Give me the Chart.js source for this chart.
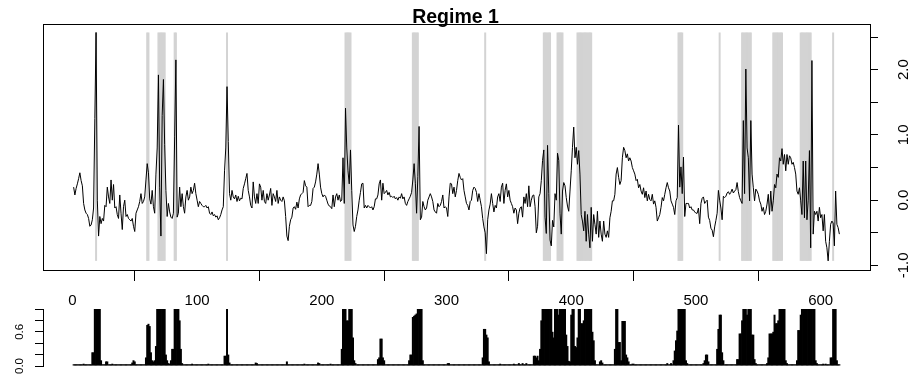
<!DOCTYPE html>
<html>
<head>
<meta charset="utf-8">
<script src="https://cdn.jsdelivr.net/npm/chart.js@4.4.0/dist/chart.umd.min.js"></script>
<style>
  body { margin: 0; background: #fff; }
  #wrap { position: relative; width: 911px; height: 385px; }
  #topChart { position: absolute; left: 0; top: 0; }
  #bottomChart { position: absolute; left: 0; top: 300px; }
</style>
</head>
<body>
<div id="wrap">
  <canvas id="topChart" width="911" height="310"></canvas>
  <canvas id="bottomChart" width="911" height="85"></canvas>
</div>
<script>
// series, one value per time step (1..615)
const series = [
  0.20, 0.08, 0.18, 0.25, 0.33, 0.42, 0.30, 0.22, -0.05, -0.15,
  -0.20, -0.22, -0.28, -0.40, -0.38, -0.30, -0.12, 1.25, 2.57, 0.00,
  -0.55, -0.25, -0.36, -0.28, -0.32, -0.08, -0.10, 0.20, 0.05, -0.05,
  0.31, 0.00, 0.24, -0.12, -0.10, -0.22, -0.28, 0.08, -0.20, -0.45,
  -0.10, 0.00, -0.25, -0.22, -0.28, -0.30, -0.32, -0.28, -0.40, -0.48,
  -0.20, -0.15, -0.10, -0.02, 0.10, -0.05, -0.02, 0.05, 0.31, 0.56,
  0.42, 0.02, -0.06, 0.15, -0.10, -0.20, 0.40, 0.80, 1.92, 0.20,
  -0.55, 1.30, 1.85, 0.85, 0.15, -0.25, -0.05, -0.18, -0.26, -0.28,
  -0.20, 0.97, 2.15, -0.26, -0.20, 0.20, -0.10, 0.10, -0.10, -0.20,
  0.05, 0.15, 0.00, 0.05, 0.20, 0.10, 0.15, 0.26, 0.10, 0.00,
  -0.10, -0.02, -0.05, -0.08, -0.10, -0.10, -0.08, -0.12, -0.10, -0.20,
  -0.22, -0.18, -0.24, -0.22, -0.26, -0.24, -0.30, -0.27, -0.22, -0.15,
  -0.10, 0.45, 0.80, 1.74, 0.90, 0.10, 0.00, 0.15, 0.05, 0.02,
  0.08, -0.02, 0.06, -0.01, 0.03, 0.02, 0.18, 0.25, 0.33, 0.41,
  0.15, 0.05, -0.08, -0.12, 0.28, 0.05, -0.05, 0.10, -0.05, 0.25,
  0.20, 0.00, 0.15, -0.02, -0.05, 0.10, 0.00, 0.08, 0.18, -0.08,
  0.10, 0.05, -0.02, 0.15, -0.05, 0.05, 0.00, -0.02, 0.05, -0.01,
  -0.25, -0.55, -0.62, -0.40, -0.30, -0.26, -0.12, -0.10, -0.14, -0.03,
  -0.12, 0.02, 0.08, 0.10, 0.12, 0.30, 0.22, 0.20, -0.10, -0.08,
  -0.08, -0.02, 0.18, 0.20, 0.28, 0.40, 0.56, 0.40, 0.20, 0.10,
  0.05, 0.08, 0.06, 0.00, -0.06, -0.09, -0.10, -0.13, 0.08, -0.10,
  0.05, 0.10, 0.00, 0.08, -0.02, 0.00, 0.65, -0.05, 1.41, 0.80,
  0.45, 0.25, 0.77, 0.15, -0.38, -0.48, -0.40, -0.25, -0.15, 0.00,
  0.12, 0.25, 0.26, -0.12, -0.08, -0.12, -0.08, -0.10, -0.12, -0.10,
  -0.15, -0.10, 0.02, 0.02, 0.08, 0.25, 0.31, 0.00, 0.26, 0.10,
  0.12, 0.15, 0.08, 0.12, 0.05, 0.06, 0.04, 0.06, 0.02, 0.04,
  0.00, 0.05, 0.03, 0.10, 0.02, 0.05, -0.05, -0.08, -0.02, 0.02,
  0.06, 0.12, 0.31, 0.56, 0.26, -0.20, 0.36, 1.13, -0.30, -0.26,
  -0.02, -0.10, -0.15, -0.12, 0.00, 0.05, 0.10, 0.05, -0.02, -0.15,
  -0.18, -0.20, -0.05, -0.10, -0.08, -0.02, 0.08, -0.12, -0.10, -0.12,
  -0.25, 0.05, 0.26, 0.25, 0.10, 0.20, 0.05, 0.15, 0.30, 0.41,
  0.35, 0.31, 0.33, 0.15, 0.05, -0.05, -0.08, -0.15, -0.02, 0.00,
  0.15, 0.20, 0.18, 0.12, -0.02, 0.10, 0.00, -0.10, -0.28, -0.41,
  -0.50, -0.82, -0.30, -0.15, -0.06, 0.10, -0.05, -0.18, -0.08, -0.12,
  0.05, 0.10, -0.02, 0.20, 0.26, -0.05, 0.15, 0.25, 0.05, 0.15,
  0.00, -0.05, -0.10, -0.20, -0.12, -0.15, -0.36, -0.20, -0.12, -0.10,
  -0.26, 0.05, -0.05, 0.10, -0.10, 0.22, -0.10, 0.00, 0.07, 0.08,
  -0.10, -0.50, -0.40, 0.05, 0.10, 0.30, 0.61, 0.77, -0.26, -0.51,
  0.84, 0.10, -0.61, -0.70, -0.31, -0.41, 0.10, 0.00, 0.72, 0.61,
  -0.20, -0.52, 0.14, 0.27, 0.22, 0.04, -0.09, -0.17, 0.14, 0.45,
  0.81, 1.12, 0.65, 0.81, 0.55, 0.76, 0.40, -0.22, -0.32, -0.47,
  -0.17, -0.63, -0.22, -0.52, -0.73, -0.11, -0.63, -0.22, -0.37, -0.52,
  -0.17, -0.57, -0.32, -0.52, -0.63, -0.32, -0.52, -0.57, -0.47, -0.57,
  -0.27, -0.17, -0.01, -0.01, 0.09, 0.40, 0.50, 0.35, 0.24, 0.30,
  0.65, 0.81, 0.76, 0.65, 0.71, 0.60, 0.65, 0.60, 0.50, 0.45,
  0.40, 0.30, 0.32, 0.19, 0.24, 0.14, 0.09, 0.19, 0.04, 0.14,
  -0.01, 0.09, 0.01, -0.01, 0.09, -0.06, -0.01, -0.11, -0.32, -0.27,
  -0.22, -0.11, 0.04, -0.01, 0.09, 0.19, 0.27, 0.19, 0.14, -0.01,
  -0.06, -0.11, -0.22, -0.01, 0.04, 1.15, 0.20, 0.51, 0.10, 0.66,
  -0.25, -0.05, -0.05, -0.05, -0.12, -0.10, -0.15, -0.15, -0.18, -0.20,
  -0.20, -0.12, -0.36, -0.05, 0.03, 0.05, -0.05, -0.02, 0.00, -0.26,
  -0.31, -0.43, -0.46, -0.56, -0.41, -0.31, -0.20, 0.15, 0.00, -0.12,
  -0.30, 0.06, 0.04, 0.06, 0.11, 0.13, 0.09, 0.12, 0.17, 0.11,
  0.14, 0.16, 0.27, 0.13, 0.04, -0.01, -0.05, 1.22, 0.10, 2.01,
  0.80, 0.65, -0.01, 1.22, 0.40, 0.19, -0.01, 0.17, 0.14, 0.09,
  -0.01, -0.06, -0.17, -0.11, -0.22, -0.17, -0.06, 0.09, -0.22, 0.14,
  -0.17, -0.01, 0.24, 0.19, 0.40, 0.35, 0.65, 0.60, 0.79, 0.55,
  0.70, 0.45, 0.70, 0.55, 0.68, 0.65, 0.55, 0.58, 0.50, 0.40,
  0.14, 0.09, 0.19, -0.01, -0.22, 0.60, -0.27, 0.60, -0.30, 0.00,
  0.76, -0.73, 2.14, -0.52, -0.17, -0.22, -0.17, -0.32, -0.11, -0.27,
  -0.22, -0.47, -0.22, -0.63, -0.73, -0.93, -0.63, -0.37, -0.32, -0.35,
  -0.70, 0.14, -0.37, -0.42, -0.52
];

// shaded regime periods (first and last time step of each)
const bandStart = [19, 60, 69, 82, 124, 219, 273, 331, 378, 389, 405, 486, 519, 537, 562, 584, 610];
const bandEnd   = [19, 61, 74, 83, 124, 223, 277, 331, 383, 393, 416, 489, 519, 544, 569, 592, 610];

// regime probability, bottom panel: [time step, probability]; other steps sit at the baseline
const probBaseline = 0.03;
const probPeaks = [
  [9,0.04],[16,0.24],[17,0.24],[18,1],[19,1],[20,1],[21,1],[22,1],[23,0.1],
  [27,0.08],[28,0.08],[32,0.04],[48,0.06],[49,0.1],[50,0.08],
  [59,0.15],[60,0.72],[61,0.74],[62,0.7],[63,0.24],[64,0.1],[65,0.08],[66,0.1],[67,0.35],
  [68,1],[69,1],[70,1],[71,1],[72,1],[73,1],[74,1],[75,0.2],[76,0.1],[77,0.05],[78,0.04],[79,0.1],
  [80,0.3],[81,0.3],[82,1],[83,1],[84,1],[85,1],[86,0.8],[87,0.3],[88,0.05],
  [96,0.04],[109,0.04],[122,0.18],[123,0.18],[124,1],[125,0.2],[126,0.06],
  [147,0.06],[148,0.05],[172,0.08],[186,0.04],[197,0.06],[198,0.05],[207,0.04],
  [216,0.3],[217,1],[218,1],[219,1],[220,0.8],[221,0.8],[222,1],[223,1],[224,1],[225,0.5],[226,0.1],[227,0.05],
  [245,0.12],[246,0.15],[247,0.48],[248,0.48],[249,0.15],[250,0.1],
  [270,0.1],[271,0.2],[272,0.2],[273,0.86],[274,0.88],[275,0.9],[276,0.92],[277,1],[278,1],[279,1],[280,1],[281,0.1],
  [301,0.05],[302,0.05],
  [329,0.15],[330,0.65],[331,0.65],[332,0.55],[333,0.5],[334,0.08],
  [343,0.04],[354,0.04],[358,0.05],[361,0.05],[364,0.05],
  [370,0.18],[371,0.18],[372,0.15],[373,0.18],[374,0.1],[375,0.3],[376,0.8],
  [377,1],[378,1],[379,1],[380,1],[381,1],[382,1],[383,1],[384,1],[385,0.6],[386,0.5],
  [387,1],[388,1],[389,1],[390,0.9],[391,1],[392,1],[393,1],[394,1],[395,1],[396,0.55],[397,0.35],[398,0.09],[399,0.08],
  [400,0.9],[401,1],[402,1],[403,0.35],[404,0.33],[405,0.5],[406,1],[407,1],[408,0.75],[409,0.75],[410,0.8],
  [411,1],[412,1],[413,1],[414,1],[415,1],[416,1],[417,0.6],[418,0.45],[419,0.1],
  [423,0.08],[424,0.1],[425,0.06],
  [435,0.3],[436,1],[437,1],[438,0.42],[439,0.42],[440,0.1],
  [441,0.79],[442,0.79],[443,0.79],[444,0.2],[445,0.15],[446,0.08],[449,0.04],[450,0.04],
  [477,0.05],[480,0.05],
  [482,0.1],[483,0.27],[484,0.45],[485,0.62],[486,1],[487,1],[488,1],[489,1],[490,1],[491,1],[492,0.1],[493,0.05],
  [506,0.05],[507,0.1],[508,0.2],[509,0.2],[510,0.08],
  [517,0.3],[518,0.65],[519,0.9],[520,0.9],[521,0.24],[522,0.1],
  [533,0.12],[534,0.12],[535,0.57],[536,0.57],[537,0.8],[538,1],[539,1],[540,1],[541,0.9],[542,1],[543,1],[544,1],
  [545,0.55],[546,0.55],[547,0.12],[548,0.05],
  [557,0.05],[558,0.15],[559,0.57],[560,0.57],[561,0.57],[562,0.6],[563,0.9],[564,0.75],[565,0.75],[566,0.8],
  [567,1],[568,1],[569,1],[570,1],[571,1],[572,0.1],[573,0.05],
  [581,0.1],[582,0.63],[583,0.63],[584,0.9],[585,1],[586,1],[587,1],[588,1],[589,1],[590,1],[591,1],[592,1],
  [593,1],[594,1],[595,1],[596,0.1],[597,0.05],
  [602,0.04],[604,0.04],[608,0.15],[609,0.15],[610,1],[611,1],[612,1],[613,0.1]
];

const xTicks = [0, 100, 200, 300, 400, 500, 600];
const yTicks = [-1, -0.5, 0, 0.5, 1, 1.5, 2, 2.5];
const yLabelled = [-1, 0, 1, 2];
const probTicks = [0, 0.2, 0.4, 0.6, 0.8, 1];
const probLabelled = [0, 0.6];

const FONT = "'Liberation Sans', Arial, sans-serif";
const xMin = -23.56, xMax = 639.56;

// build datasets
const lineData = series.map((v, i) => ({ x: i + 1, y: v }));
const lo = Math.min(...series), hi = Math.max(...series);
const bandData = [];
bandStart.forEach((s, k) => {
  for (let i = s; i <= bandEnd[k]; i++) bandData.push({ x: i, y: [lo, hi] });
});
const probMap = new Map(probPeaks);
const probData = series.map((_, i) => ({ x: i + 1, y: probMap.has(i + 1) ? probMap.get(i + 1) : probBaseline }));

const black = '#000';
const hiddenPlugins = { legend: { display: false }, tooltip: { enabled: false } };

// vertical axes: fixed width, no extra room for the rotated labels
const fitY = w => s => { s.width = w; s.paddingTop = 0; s.paddingBottom = 0; };

new Chart(document.getElementById('topChart'), {
  type: 'line',
  data: {
    datasets: [
      { type: 'line', data: lineData, borderColor: black, borderWidth: 1, pointRadius: 0, tension: 0, order: 0 },
      { type: 'bar', data: bandData, backgroundColor: '#d3d3d3', barPercentage: 1.6, categoryPercentage: 1, order: 1 }
    ]
  },
  options: {
    responsive: false,
    animation: false,
    devicePixelRatio: 1,
    layout: { padding: 0 },
    plugins: {
      ...hiddenPlugins,
      title: {
        display: true,
        text: 'Regime 1',
        color: black,
        font: { family: FONT, size: 19.5, weight: 'bold', lineHeight: 1 },
        padding: { top: 7.5, bottom: -3 }
      }
    },
    scales: {
      x: {
        type: 'linear', min: xMin, max: xMax, offset: false,
        afterBuildTicks: s => { s.ticks = xTicks.map(v => ({ value: v })); },
        afterFit: s => { s.height = 40; },
        ticks: { autoSkip: false, maxRotation: 0, color: black, padding: 11,
                 font: { family: FONT, size: 15 }, callback: v => String(v) },
        grid: { display: true, drawOnChartArea: false, drawTicks: true, tickLength: 11, color: black },
        border: { display: true, color: black, width: 1 }
      },
      y: {
        type: 'linear', position: 'right', min: -1.07, max: 2.70,
        afterBuildTicks: s => { s.ticks = yTicks.map(v => ({ value: v })); },
        afterFit: fitY(41),
        ticks: { autoSkip: false, minRotation: 90, maxRotation: 90, crossAlign: 'center', padding: 13,
                 color: black, font: { family: FONT, size: 15 },
                 callback: v => yLabelled.includes(v) ? v.toFixed(1) : '' },
        grid: { display: true, drawOnChartArea: false, drawTicks: true, tickLength: 8, color: black },
        border: { display: true, color: black, width: 1 }
      },
      xTop: {
        axis: 'x', type: 'linear', position: 'top', min: xMin, max: xMax, display: true,
        afterFit: s => { s.height = 0; },
        ticks: { display: false }, grid: { display: false },
        border: { display: true, color: black, width: 1 }
      },
      yLeft: {
        axis: 'y', type: 'linear', position: 'left', min: -1.07, max: 2.70, display: true,
        afterFit: fitY(43),
        ticks: { display: false }, grid: { display: false },
        border: { display: true, color: black, width: 1 }
      }
    }
  }
});

new Chart(document.getElementById('bottomChart'), {
  type: 'bar',
  data: {
    datasets: [{ data: probData, backgroundColor: black, barPercentage: 1.6, categoryPercentage: 1 }]
  },
  options: {
    responsive: false,
    animation: false,
    devicePixelRatio: 1,
    layout: { padding: { left: 0, right: 41, top: 9, bottom: 19 } },
    plugins: hiddenPlugins,
    scales: {
      x: { type: 'linear', min: xMin, max: xMax, offset: false, display: false },
      y: {
        type: 'linear', position: 'left', min: 0, max: 1,
        afterBuildTicks: s => { s.ticks = probTicks.map(v => ({ value: v })); },
        afterFit: fitY(43),
        ticks: { autoSkip: false, minRotation: 90, maxRotation: 90, crossAlign: 'center', padding: 7,
                 color: black, font: { family: FONT, size: 11.5 },
                 callback: v => probLabelled.includes(v) ? v.toFixed(1) : '' },
        grid: { display: true, drawOnChartArea: false, drawTicks: true, tickLength: 8, color: black },
        border: { display: true, color: black, width: 1 }
      }
    }
  }
});
</script>
</body>
</html>
